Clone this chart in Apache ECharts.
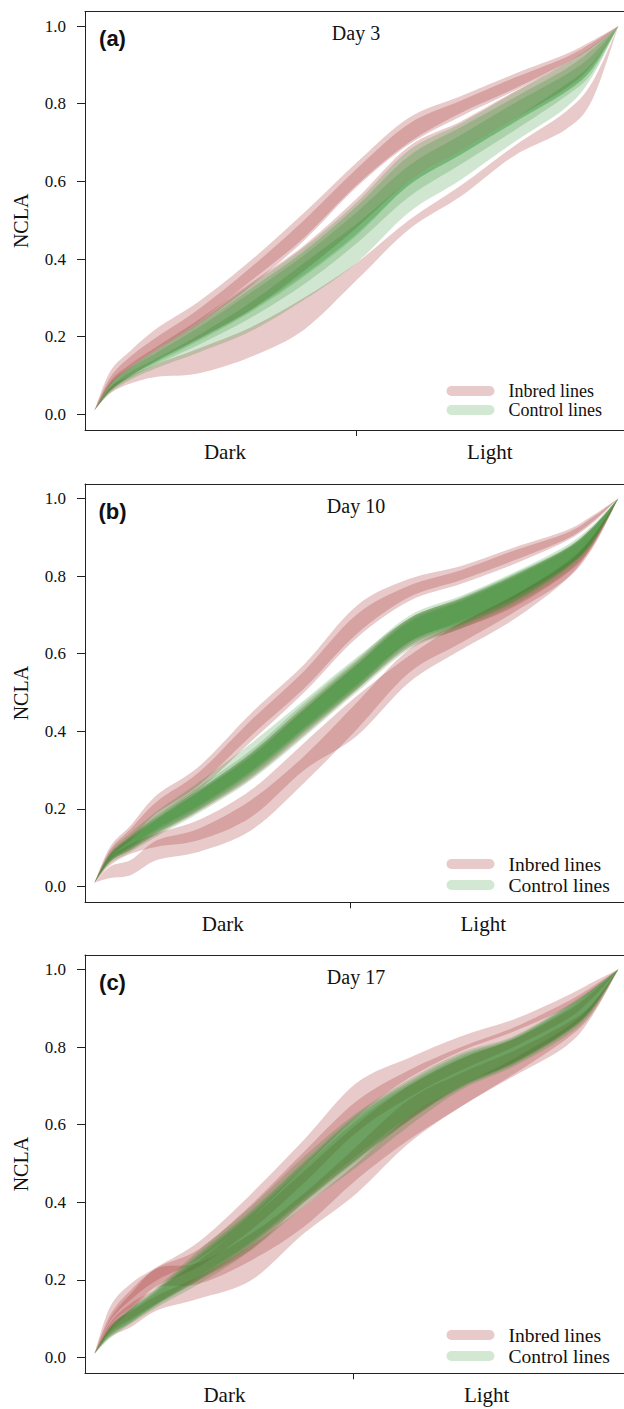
<!DOCTYPE html>
<html><head><meta charset="utf-8">
<script src="https://cdn.jsdelivr.net/npm/echarts@6/dist/echarts.min.js"></script>
<style>html,body{margin:0;padding:0;background:#fff}#c{width:624px;height:1409px}</style>
</head><body><div id="c"></div>
<script>
// Time fraction across the Dark/Light cycle (0 = start, 1 = end)
const timePoints = [0, 0.03, 0.07, 0.12, 0.2, 0.3, 0.4, 0.5, 0.6, 0.7, 0.8, 0.9, 0.95, 1];
const yTicks = [0, 0.2, 0.4, 0.6, 0.8, 1.0];
const xLabels = ['Dark', 'Light'];
const panelLabels = ['(a)', '(b)', '(c)'];
const panelTitles = ['Day 3', 'Day 10', 'Day 17'];
const legendNames = ['Inbred lines', 'Control lines'];

// ---- Day 3 ----
const aIn1_lo = [0.01, 0.075, 0.125, 0.17, 0.24, 0.345, 0.455, 0.59, 0.70, 0.777, 0.838, 0.905, 0.945, 1.0];
const aIn1_hi = [0.01, 0.11, 0.165, 0.222, 0.291, 0.398, 0.519, 0.648, 0.764, 0.82, 0.876, 0.928, 0.962, 1.0];
const aIn2_lo = [0.01, 0.075, 0.12, 0.165, 0.232, 0.332, 0.448, 0.585, 0.695, 0.768, 0.832, 0.9, 0.945, 1.0];
const aIn2_hi = [0.01, 0.095, 0.15, 0.2, 0.272, 0.38, 0.5, 0.632, 0.748, 0.808, 0.866, 0.92, 0.957, 1.0];
const aIn3_lo = [0.01, 0.06, 0.1, 0.14, 0.195, 0.27, 0.37, 0.48, 0.6, 0.68, 0.76, 0.84, 0.9, 1.0];
const aIn3_hi = [0.01, 0.085, 0.13, 0.175, 0.245, 0.34, 0.435, 0.555, 0.69, 0.755, 0.83, 0.9, 0.945, 1.0];
const aIn4_lo = [0.01, 0.054, 0.08, 0.097, 0.106, 0.149, 0.218, 0.345, 0.476, 0.562, 0.665, 0.734, 0.81, 1.0];
const aIn4_hi = [0.01, 0.07, 0.1, 0.13, 0.17, 0.225, 0.3, 0.39, 0.5, 0.59, 0.69, 0.78, 0.855, 1.0];
const aCt1_lo = [0.01, 0.06, 0.1, 0.135, 0.19, 0.265, 0.355, 0.46, 0.59, 0.67, 0.75, 0.83, 0.89, 1.0];
const aCt1_hi = [0.01, 0.08, 0.125, 0.17, 0.24, 0.335, 0.43, 0.545, 0.68, 0.75, 0.828, 0.905, 0.948, 1.0];
const aCt2_lo = [0.01, 0.055, 0.09, 0.12, 0.16, 0.215, 0.295, 0.39, 0.52, 0.605, 0.7, 0.79, 0.87, 1.0];
const aCt2_hi = [0.01, 0.07, 0.11, 0.145, 0.205, 0.29, 0.39, 0.49, 0.6, 0.68, 0.76, 0.85, 0.905, 1.0];
const aCt3_lo = [0.01, 0.06, 0.095, 0.13, 0.18, 0.25, 0.335, 0.44, 0.56, 0.645, 0.73, 0.82, 0.88, 1.0];
const aCt3_hi = [0.01, 0.075, 0.12, 0.16, 0.225, 0.315, 0.41, 0.52, 0.64, 0.72, 0.8, 0.875, 0.925, 1.0];
const aCt4_lo = [0.01, 0.062, 0.1, 0.138, 0.195, 0.27, 0.36, 0.465, 0.59, 0.67, 0.752, 0.832, 0.89, 1.0];
const aCt4_hi = [0.01, 0.078, 0.122, 0.165, 0.232, 0.325, 0.42, 0.535, 0.665, 0.74, 0.815, 0.89, 0.94, 1.0];

// ---- Day 10 ----
const bIn1_lo = [0.01, 0.08, 0.125, 0.19, 0.262, 0.39, 0.51, 0.65, 0.745, 0.79, 0.84, 0.895, 0.94, 1.0];
const bIn1_hi = [0.01, 0.103, 0.159, 0.237, 0.31, 0.448, 0.572, 0.723, 0.792, 0.826, 0.873, 0.917, 0.955, 1.0];
const bIn2_lo = [0.01, 0.075, 0.12, 0.18, 0.25, 0.375, 0.5, 0.64, 0.735, 0.78, 0.83, 0.89, 0.935, 1.0];
const bIn2_hi = [0.01, 0.095, 0.15, 0.22, 0.295, 0.43, 0.555, 0.7, 0.775, 0.815, 0.865, 0.91, 0.95, 1.0];
const bIn3_lo = [0.01, 0.065, 0.095, 0.135, 0.195, 0.28, 0.39, 0.505, 0.615, 0.665, 0.72, 0.805, 0.875, 1.0];
const bIn3_hi = [0.01, 0.085, 0.13, 0.18, 0.25, 0.345, 0.465, 0.58, 0.69, 0.742, 0.8, 0.87, 0.925, 1.0];
const bIn4_lo = [0.01, 0.055, 0.085, 0.103, 0.12, 0.18, 0.3, 0.387, 0.525, 0.61, 0.688, 0.79, 0.87, 1.0];
const bIn4_hi = [0.01, 0.075, 0.11, 0.138, 0.172, 0.25, 0.37, 0.49, 0.594, 0.68, 0.749, 0.83, 0.9, 1.0];
const bIn5_lo = [0.01, 0.022, 0.03, 0.069, 0.09, 0.146, 0.267, 0.404, 0.55, 0.628, 0.706, 0.792, 0.878, 1.0];
const bIn5_hi = [0.01, 0.052, 0.069, 0.12, 0.15, 0.224, 0.336, 0.473, 0.61, 0.68, 0.749, 0.835, 0.9, 1.0];
const bCt1_lo = [0.01, 0.065, 0.095, 0.138, 0.198, 0.284, 0.396, 0.508, 0.62, 0.671, 0.731, 0.818, 0.885, 1.0];
const bCt1_hi = [0.01, 0.085, 0.133, 0.185, 0.258, 0.353, 0.473, 0.585, 0.697, 0.749, 0.809, 0.878, 0.93, 1.0];
const bCt2_lo = [0.01, 0.07, 0.105, 0.15, 0.21, 0.3, 0.41, 0.52, 0.63, 0.685, 0.745, 0.825, 0.89, 1.0];
const bCt2_hi = [0.01, 0.09, 0.14, 0.195, 0.27, 0.37, 0.48, 0.59, 0.69, 0.745, 0.805, 0.872, 0.925, 1.0];
const bCt3_lo = [0.01, 0.06, 0.09, 0.13, 0.19, 0.275, 0.385, 0.5, 0.61, 0.665, 0.725, 0.81, 0.88, 1.0];
const bCt3_hi = [0.01, 0.08, 0.125, 0.175, 0.245, 0.335, 0.455, 0.57, 0.68, 0.735, 0.795, 0.865, 0.92, 1.0];
const bCt4_lo = [0.01, 0.065, 0.1, 0.14, 0.2, 0.29, 0.4, 0.51, 0.625, 0.675, 0.735, 0.82, 0.885, 1.0];
const bCt4_hi = [0.01, 0.08, 0.125, 0.175, 0.245, 0.34, 0.455, 0.57, 0.685, 0.738, 0.8, 0.868, 0.922, 1.0];
const bCt5_lo = [0.01, 0.068, 0.1, 0.145, 0.205, 0.295, 0.405, 0.515, 0.63, 0.68, 0.74, 0.823, 0.888, 1.0];
const bCt5_hi = [0.01, 0.082, 0.128, 0.18, 0.25, 0.345, 0.46, 0.575, 0.69, 0.742, 0.803, 0.87, 0.925, 1.0];

// ---- Day 17 ----
const cIn1_lo = [0.01, 0.095, 0.15, 0.2, 0.255, 0.36, 0.49, 0.62, 0.72, 0.79, 0.84, 0.9, 0.945, 1.0];
const cIn1_hi = [0.01, 0.131, 0.191, 0.234, 0.299, 0.423, 0.561, 0.707, 0.772, 0.828, 0.871, 0.931, 0.966, 1.0];
const cIn2_lo = [0.01, 0.085, 0.13, 0.185, 0.235, 0.33, 0.45, 0.58, 0.67, 0.74, 0.8, 0.87, 0.925, 1.0];
const cIn2_hi = [0.01, 0.11, 0.175, 0.232, 0.28, 0.395, 0.53, 0.66, 0.74, 0.8, 0.85, 0.915, 0.955, 1.0];
const cIn3_lo = [0.01, 0.07, 0.12, 0.18, 0.19, 0.251, 0.337, 0.458, 0.561, 0.647, 0.73, 0.82, 0.885, 1.0];
const cIn3_hi = [0.01, 0.1, 0.165, 0.23, 0.245, 0.32, 0.423, 0.544, 0.664, 0.733, 0.79, 0.86, 0.91, 1.0];
const cIn4_lo = [0.01, 0.053, 0.079, 0.122, 0.152, 0.2, 0.32, 0.423, 0.552, 0.647, 0.725, 0.802, 0.88, 1.0];
const cIn4_hi = [0.01, 0.085, 0.12, 0.16, 0.21, 0.29, 0.39, 0.5, 0.62, 0.7, 0.77, 0.85, 0.91, 1.0];
const cIn5_lo = [0.01, 0.065, 0.1, 0.14, 0.2, 0.28, 0.4, 0.51, 0.61, 0.7, 0.76, 0.84, 0.9, 1.0];
const cIn5_hi = [0.01, 0.09, 0.14, 0.18, 0.25, 0.36, 0.48, 0.6, 0.7, 0.77, 0.82, 0.89, 0.94, 1.0];
const cCt1_lo = [0.01, 0.06, 0.095, 0.14, 0.21, 0.3, 0.41, 0.52, 0.62, 0.7, 0.76, 0.84, 0.9, 1.0];
const cCt1_hi = [0.01, 0.08, 0.13, 0.182, 0.277, 0.39, 0.518, 0.63, 0.716, 0.785, 0.828, 0.905, 0.95, 1.0];
const cCt2_lo = [0.01, 0.05, 0.088, 0.13, 0.19, 0.277, 0.39, 0.49, 0.596, 0.69, 0.75, 0.828, 0.89, 1.0];
const cCt2_hi = [0.01, 0.075, 0.12, 0.17, 0.26, 0.37, 0.49, 0.61, 0.7, 0.77, 0.82, 0.895, 0.945, 1.0];
const cCt3_lo = [0.01, 0.055, 0.09, 0.135, 0.2, 0.29, 0.4, 0.505, 0.61, 0.695, 0.755, 0.835, 0.895, 1.0];
const cCt3_hi = [0.01, 0.078, 0.125, 0.175, 0.265, 0.375, 0.5, 0.62, 0.705, 0.775, 0.822, 0.9, 0.947, 1.0];
const cCt4_lo = [0.01, 0.058, 0.092, 0.138, 0.205, 0.295, 0.405, 0.51, 0.615, 0.697, 0.757, 0.837, 0.897, 1.0];
const cCt4_hi = [0.01, 0.078, 0.126, 0.177, 0.27, 0.38, 0.505, 0.625, 0.71, 0.78, 0.825, 0.902, 0.948, 1.0];

// Dark/Light boundary tick and label centres (fraction of time axis)
const boundaryTick = [0.499, 0.489, 0.493];
const labelPos = [[0.249, 0.7546], [0.245, 0.742], [0.248, 0.7485]];

const inbredSets = [
  [[aIn1_lo, aIn1_hi], [aIn2_lo, aIn2_hi], [aIn3_lo, aIn3_hi], [aIn4_lo, aIn4_hi]],
  [[bIn1_lo, bIn1_hi], [bIn2_lo, bIn2_hi], [bIn3_lo, bIn3_hi], [bIn4_lo, bIn4_hi], [bIn5_lo, bIn5_hi]],
  [[cIn1_lo, cIn1_hi], [cIn2_lo, cIn2_hi], [cIn3_lo, cIn3_hi], [cIn4_lo, cIn4_hi], [cIn5_lo, cIn5_hi]]
];
const controlSets = [
  [[aCt1_lo, aCt1_hi], [aCt2_lo, aCt2_hi], [aCt3_lo, aCt3_hi], [aCt4_lo, aCt4_hi]],
  [[bCt1_lo, bCt1_hi], [bCt2_lo, bCt2_hi], [bCt3_lo, bCt3_hi], [bCt4_lo, bCt4_hi], [bCt5_lo, bCt5_hi]],
  [[cCt1_lo, cCt1_hi], [cCt2_lo, cCt2_hi], [cCt3_lo, cCt3_hi], [cCt4_lo, cCt4_hi]]
];

const INBRED = 'rgba(165,42,42,0.25)';
const CONTROL = 'rgba(34,139,34,0.21)';
const SERIF = '"Liberation Serif","Times New Roman",serif';
const gridTops = [11.7, 484, 955];
const legendTops = [382, 854, 1325];
const legendFonts = [18, 19.5, 19.5];
const PILL = 'path://M5,0 L43,0 A5,5 0 0 1 43,10 L5,10 A5,5 0 0 1 5,0 Z';
const X_MIN = -0.018, X_MAX = 1.0106;

// Catmull-Rom smoothing of projected points into cubic segments
function smoothSegs(p) {
  let s = '';
  for (let i = 0; i < p.length - 1; i++) {
    const p0 = p[i - 1] || p[i], p1 = p[i], p2 = p[i + 1], p3 = p[i + 2] || p[i + 1];
    const t = 1 / 6;
    s += 'C' + (p1[0] + (p2[0] - p0[0]) * t) + ',' + (p1[1] + (p2[1] - p0[1]) * t) + ' ' +
         (p2[0] - (p3[0] - p1[0]) * t) + ',' + (p2[1] - (p3[1] - p1[1]) * t) + ' ' +
         p2[0] + ',' + p2[1];
  }
  return s;
}

const series = [];
function ribbon(name, color, pair, gi) {
  const lo = pair[0], hi = pair[1];
  series.push({
    type: 'custom', name: name, coordinateSystem: 'cartesian2d',
    xAxisIndex: gi * 2, yAxisIndex: gi, clip: true, silent: true, z: 2,
    itemStyle: { color: color },
    data: timePoints.map((x, i) => [x, lo[i], hi[i]]),
    encode: { x: 0, y: [1, 2] },
    renderItem: function (params, api) {
      if (params.dataIndex !== 0) return null;
      const up = timePoints.map((x, i) => api.coord([x, hi[i]]));
      const dn = timePoints.map((x, i) => api.coord([x, lo[i]])).reverse();
      const d = 'M' + up[0][0] + ',' + up[0][1] + smoothSegs(up) +
                'L' + dn[0][0] + ',' + dn[0][1] + smoothSegs(dn) + 'Z';
      return { type: 'path', shape: { pathData: d }, style: { fill: color, stroke: null } };
    }
  });
}
for (let g = 0; g < 3; g++) {
  inbredSets[g].forEach(p => ribbon(legendNames[0], INBRED, p, g));
  controlSets[g].forEach(p => ribbon(legendNames[1], CONTROL, p, g));
}

const grids = [], xAxes = [], yAxes = [], legends = [], graphics = [];
for (let g = 0; g < 3; g++) {
  grids.push({ left: 85, top: gridTops[g], width: 539, height: 418.3, show: false,
    outerBoundsMode: 'none', containLabel: false });
  xAxes.push({ type: 'value', gridIndex: g, min: X_MIN, max: X_MAX, position: 'bottom',
    splitLine: { show: false },
    axisLine: { show: true, onZero: false, lineStyle: { color: '#222', width: 1 } },
    axisTick: { show: true, customValues: [boundaryTick[g]], length: 6, lineStyle: { color: '#222' } },
    axisLabel: { show: true, customValues: labelPos[g],
      formatter: v => '{t|' + (v < 0.5 ? xLabels[0] : xLabels[1]) + '}',
      rich: { t: { fontFamily: SERIF, fontSize: 21, color: '#111' } },
      fontFamily: SERIF, fontSize: 21, color: '#111', margin: 11 } });
  // top frame line
  xAxes.push({ type: 'value', gridIndex: g, min: X_MIN, max: X_MAX, position: 'top',
    splitLine: { show: false },
    axisLine: { show: true, onZero: false, lineStyle: { color: '#222', width: 1 } },
    axisTick: { show: false }, axisLabel: { show: false } });
  yAxes.push({ type: 'value', gridIndex: g, min: -0.0404, max: 1.037, position: 'left',
    splitLine: { show: false },
    axisLine: { show: true, onZero: false, lineStyle: { color: '#222', width: 1 } },
    axisTick: { show: true, customValues: yTicks, length: 8, lineStyle: { color: '#222' } },
    axisLabel: { show: true, customValues: yTicks,
      formatter: v => '{t|' + Number(v).toFixed(1) + '}',
      rich: { t: { fontFamily: SERIF, fontSize: 17, color: '#111' } },
      fontFamily: SERIF, fontSize: 17, color: '#111', margin: 19 },
    name: 'NCLA', nameLocation: 'middle', nameGap: 54, nameRotate: 90,
    nameTextStyle: { fontFamily: SERIF, fontSize: 20, color: '#111' } });
  legends.push({ orient: 'vertical', left: 446.5, top: legendTops[g], padding: 0,
    itemWidth: 48, itemHeight: 10, itemGap: 1, icon: PILL, selectedMode: false,
    textStyle: { fontFamily: SERIF, fontSize: legendFonts[g], color: '#111',
      lineHeight: 18, padding: [0, 0, 0, 9] },
    data: [ { name: legendNames[0], itemStyle: { color: INBRED } },
            { name: legendNames[1], itemStyle: { color: 'rgba(34,139,34,0.2)' } } ] });
  graphics.push({ type: 'text', x: 112.5, y: gridTops[g] + 27, z: 10,
    style: { text: panelLabels[g], fontFamily: '"Liberation Sans",Arial,sans-serif',
      fontWeight: 'bold', fontSize: 22, fill: '#111', align: 'center', verticalAlign: 'middle' } });
  graphics.push({ type: 'text', x: 356, y: gridTops[g] + 21.5, z: 10,
    style: { text: panelTitles[g], fontFamily: SERIF, fontSize: 20, fill: '#111',
      align: 'center', verticalAlign: 'middle' } });
}

const chart = echarts.init(document.getElementById('c'), null, { renderer: 'svg' });
chart.setOption({
  animation: false,
  backgroundColor: '#fff',
  textStyle: { fontFamily: SERIF, fontSize: 17, color: '#111' },
  grid: grids, xAxis: xAxes, yAxis: yAxes, legend: legends,
  graphic: graphics, series: series
});
</script></body></html>
